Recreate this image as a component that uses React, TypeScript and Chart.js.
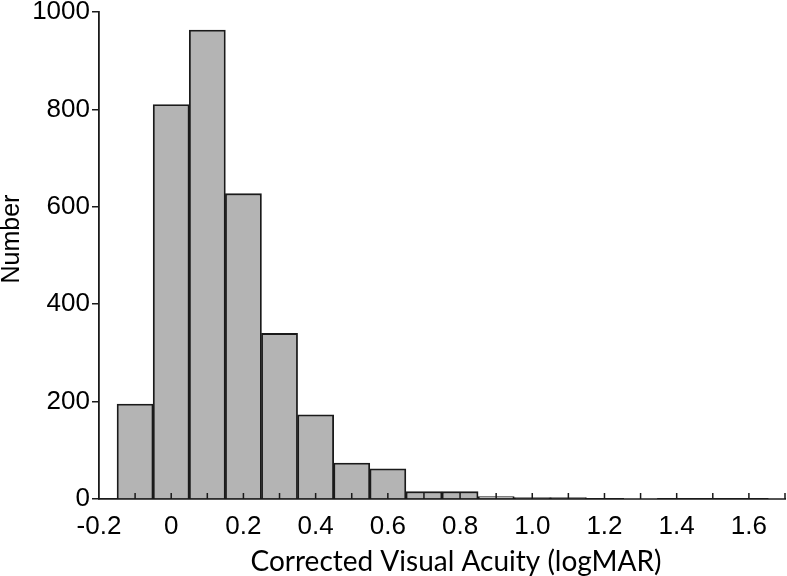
import React, { useEffect, useRef } from "react";
import { Chart, registerables } from "chart.js";

Chart.register(...registerables);

// Bin centers (logMAR) and counts
const binCenters = [-0.1, 0, 0.1, 0.2, 0.3, 0.4, 0.5, 0.6, 0.7, 0.8, 0.9, 1.0, 1.1, 1.2, 1.3, 1.4, 1.5, 1.6, 1.7];
const counts = [195, 810, 963, 627, 340, 173, 74, 62, 15, 15, 5, 3, 3, 0, 1, 0, 0, 0, 1];
const minorTicks = [-0.1, 0, 0.1, 0.2, 0.3, 0.4, 0.5, 0.6, 0.7, 0.8, 0.9, 1.0, 1.1, 1.2, 1.3, 1.4, 1.5, 1.6, 1.7];
const xTickLabels = [-0.2, 0, 0.2, 0.4, 0.6, 0.8, 1.0, 1.2, 1.4, 1.6];
const xTitle = "Corrected Visual Acuity (logMAR)";
const yTitle = "Number";

const extras = {
  id: "extras",
  afterDatasetsDraw(chart: any) {
    const { ctx, scales, chartArea } = chart;
    const x = scales.x;
    ctx.save();
    ctx.strokeStyle = "#1a1a1a";
    ctx.lineWidth = 1.5;
    ctx.beginPath();
    for (const t of minorTicks) {
      const px = x.getPixelForValue(t);
      ctx.moveTo(px, chartArea.bottom);
      ctx.lineTo(px, chartArea.bottom - 6);
    }
    ctx.stroke();
    ctx.restore();
  },
  afterDraw(chart: any) {
    const { ctx, chartArea } = chart;
    ctx.save();
    ctx.fillStyle = "#000";
    ctx.textAlign = "center";
    ctx.textBaseline = "middle";
    ctx.font = "28px Lato";
    ctx.fillText(xTitle, chartArea.left + 357, 562);
    ctx.translate(12, chartArea.top + 227);
    ctx.rotate(-Math.PI / 2);
    ctx.font = "25px 'Liberation Sans', Arial";
    ctx.fillText(yTitle, 0, 0);
    ctx.restore();
  },
};

export default function App() {
  const ref = useRef<HTMLCanvasElement>(null);
  useEffect(() => {
    const chart = new Chart(ref.current!, {
      type: "bar",
      data: {
        datasets: [
          {
            data: binCenters.map((x, i) => ({ x, y: counts[i] })),
            backgroundColor: "#b4b4b4",
            borderColor: "#1a1a1a",
            borderWidth: 1.8,
            barPercentage: 1,
            categoryPercentage: 1,
          },
        ],
      },
      options: {
        responsive: false,
        animation: false,
        layout: { padding: { top: 0, right: 2, left: 0, bottom: 0 } },
        plugins: { legend: { display: false }, tooltip: { enabled: false } },
        scales: {
          x: {
            type: "linear",
            min: -0.2,
            max: 1.7,
            offset: false,
            afterFit: (s: any) => { s.height = 77; },
            afterBuildTicks: (s: any) => {
              s.ticks = xTickLabels.map((v) => ({ value: v }));
            },
            ticks: {
              autoSkip: false,
              maxRotation: 0,
              padding: 12,
              color: "#000",
              font: { family: "'Liberation Sans', Arial", size: 26 },
              callback: (v: any) => {
                const n = Math.round(Number(v) * 10) / 10;
                return n === 0 ? "0" : n.toFixed(1);
              },
            },
            grid: { display: true, drawOnChartArea: false, drawTicks: false },
            border: { display: true, color: "#1a1a1a", width: 1.8 },
          },
          y: {
            min: 0,
            max: 1000,
            afterFit: (s: any) => { s.width = 99; },
            ticks: {
              stepSize: 200,
              padding: 2,
              color: "#000",
              font: { family: "'Liberation Sans', Arial", size: 26, lineHeight: 0.77 },
              callback: (v: any) => String(v),
            },
            grid: { drawOnChartArea: false, drawTicks: true, tickLength: 7, color: "#1a1a1a", lineWidth: 1.5 },
            border: { display: true, color: "#1a1a1a", width: 1.8 },
          },
        },
      },
      plugins: [extras],
    });
    return () => chart.destroy();
  }, []);
  return (
    <div style={{ position: "fixed", left: 0, top: 0, width: 787, height: 576, background: "#fff" }}>
      <canvas ref={ref} width={787} height={576} />
    </div>
  );
}
